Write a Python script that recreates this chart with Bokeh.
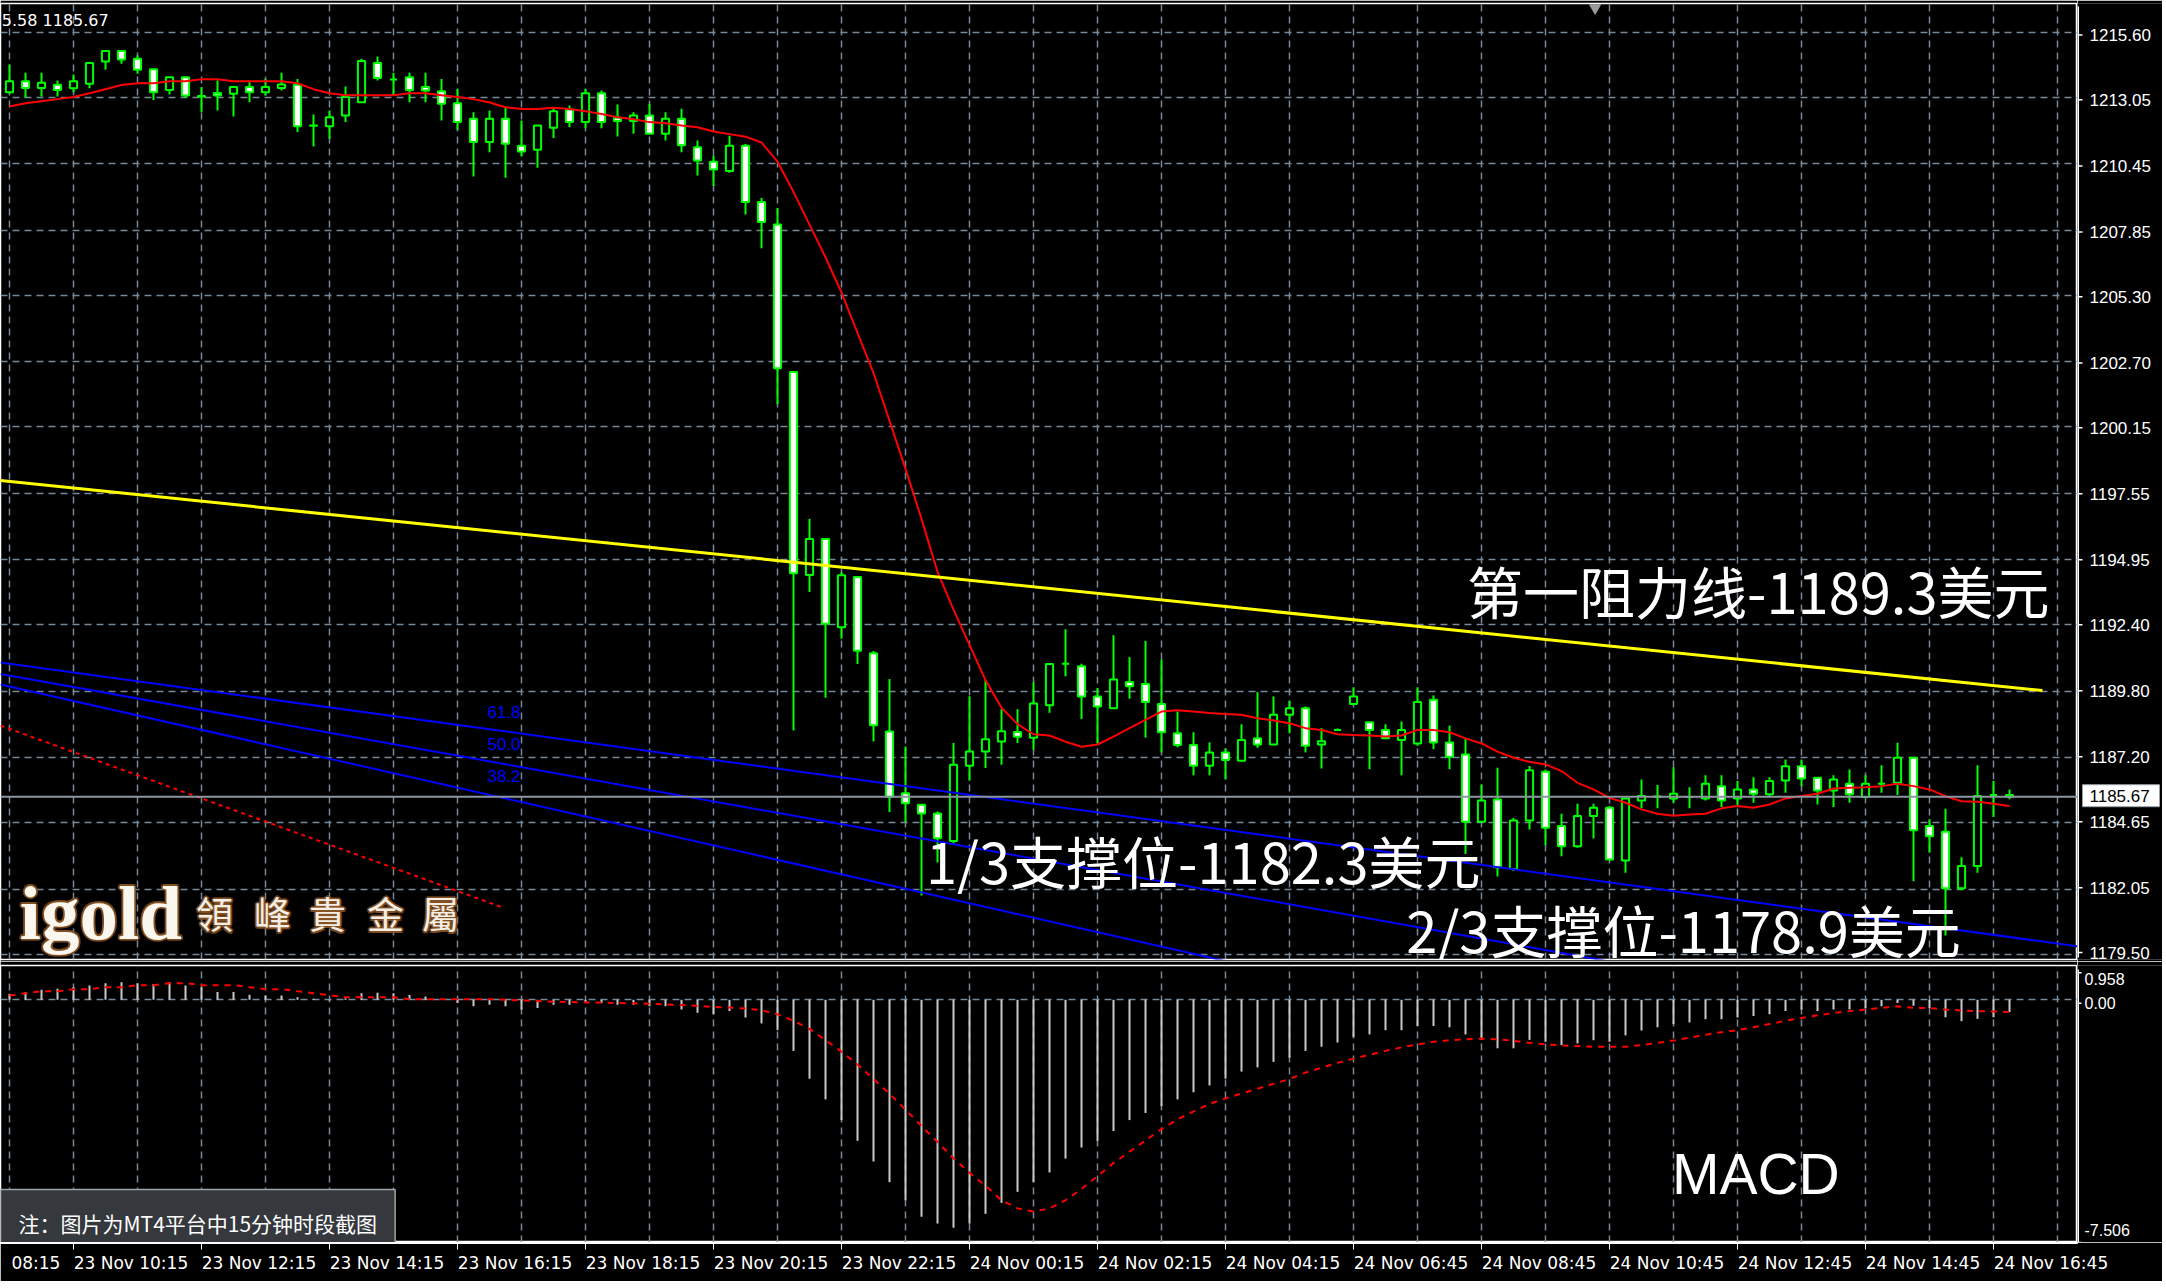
from bokeh.plotting import figure
from bokeh.layouts import column, row
from bokeh.models import (Range1d, FixedTicker, Grid, Span, Label, LinearAxis, ColumnDataSource)
from bokeh.embed import file_html
from bokeh.resources import INLINE
from bokeh.core.properties import value

# ---- GOLD M15 candles (bar index 0 .. 125) ----
opens = [1213.25, 1213.68, 1213.42, 1213.54, 1213.41, 1213.58, 1214.45, 1214.86, 1214.56, 1214.15,
         1213.34, 1213.84, 1213.10, 1213.22, 1213.19, 1213.45, 1213.25, 1213.42, 1213.54, 1211.95,
         1211.92, 1212.34, 1212.86, 1214.39, 1213.75, 1213.84, 1213.45, 1213.29, 1212.82, 1212.21,
         1211.30, 1212.21, 1211.16, 1211.00, 1211.86, 1212.57, 1212.08, 1213.21, 1212.25, 1212.12,
         1212.34, 1211.62, 1212.21, 1211.10, 1210.53, 1210.17, 1211.16, 1208.95, 1208.07, 1202.30,
         1194.35, 1195.76, 1192.31, 1194.28, 1191.29, 1188.23, 1185.81, 1185.36, 1185.02, 1183.94,
         1186.89, 1187.45, 1187.84, 1188.21, 1187.98, 1189.26, 1190.88, 1190.78, 1189.60, 1189.14,
         1190.17, 1190.09, 1189.30, 1188.16, 1187.70, 1186.89, 1187.41, 1187.08, 1187.96, 1187.72,
         1188.88, 1189.14, 1187.72, 1188.29, 1189.30, 1188.59, 1188.29, 1187.90, 1187.76, 1189.47,
         1187.80, 1187.33, 1184.70, 1185.57, 1182.85, 1184.74, 1186.65, 1184.53, 1183.74, 1184.92,
         1185.24, 1183.18, 1185.53, 1185.67, 1185.61, 1185.66, 1185.61, 1186.09, 1185.61, 1185.96,
         1185.77, 1186.31, 1186.87, 1186.42, 1185.92, 1186.18, 1185.66, 1186.18, 1186.22, 1187.20,
         1184.53, 1184.30, 1182.09, 1182.96, 1185.74, 1185.74]
highs = [1214.34, 1214.01, 1214.01, 1213.71, 1213.94, 1214.39, 1214.86, 1214.86, 1214.69, 1214.15,
         1213.84, 1213.84, 1213.45, 1213.71, 1213.45, 1213.64, 1213.77, 1214.01, 1213.77, 1212.38,
         1212.53, 1213.47, 1214.56, 1214.65, 1214.01, 1214.01, 1214.01, 1213.77, 1213.38, 1212.47,
         1212.53, 1212.66, 1212.14, 1211.95, 1212.66, 1212.73, 1213.38, 1213.32, 1212.77, 1212.47,
         1212.80, 1212.47, 1212.60, 1211.36, 1210.77, 1211.55, 1211.22, 1209.11, 1208.72, 1202.30,
         1196.55, 1195.80, 1194.48, 1194.28, 1191.38, 1190.28, 1187.64, 1185.36, 1185.10, 1187.78,
         1189.61, 1190.24, 1189.10, 1189.10, 1190.15, 1190.87, 1192.23, 1190.88, 1189.93, 1192.00,
         1191.14, 1191.77, 1191.05, 1189.01, 1188.20, 1187.80, 1187.57, 1188.51, 1189.77, 1189.60,
         1189.43, 1189.21, 1188.36, 1188.35, 1189.96, 1188.59, 1188.51, 1188.62, 1189.96, 1189.64,
         1188.46, 1187.93, 1186.15, 1186.81, 1184.84, 1186.88, 1186.74, 1185.01, 1185.40, 1185.40,
         1185.31, 1185.61, 1186.35, 1186.13, 1186.83, 1186.05, 1186.52, 1186.52, 1186.29, 1186.44,
         1186.44, 1187.13, 1187.13, 1186.44, 1186.52, 1186.74, 1186.52, 1186.91, 1187.79, 1187.20,
         1184.79, 1185.20, 1183.31, 1186.91, 1186.29, 1185.96]
lows = [1213.19, 1213.03, 1213.08, 1213.08, 1213.25, 1213.41, 1214.13, 1214.36, 1213.97, 1212.95,
        1213.16, 1213.03, 1212.47, 1212.53, 1212.30, 1212.86, 1213.12, 1213.32, 1211.69, 1211.13,
        1211.43, 1212.08, 1212.86, 1213.71, 1213.12, 1212.86, 1212.86, 1212.14, 1211.78, 1209.95,
        1210.90, 1209.90, 1210.73, 1210.29, 1211.46, 1211.88, 1211.84, 1211.84, 1211.52, 1211.62,
        1211.62, 1211.36, 1210.90, 1209.99, 1209.58, 1210.10, 1208.46, 1207.14, 1201.04, 1188.27,
        1193.69, 1189.55, 1191.86, 1190.87, 1187.84, 1185.08, 1184.69, 1181.81, 1183.10, 1183.84,
        1186.30, 1186.80, 1186.93, 1187.78, 1187.52, 1188.96, 1190.39, 1188.72, 1187.76, 1189.12,
        1189.51, 1187.99, 1187.41, 1187.61, 1186.52, 1186.52, 1186.36, 1187.07, 1187.59, 1187.70,
        1188.16, 1187.41, 1186.78, 1188.25, 1189.30, 1186.75, 1187.93, 1186.52, 1187.67, 1187.54,
        1186.75, 1183.43, 1184.70, 1182.55, 1182.78, 1184.39, 1183.78, 1183.35, 1183.68, 1184.04,
        1183.18, 1182.70, 1185.22, 1185.22, 1185.44, 1185.22, 1185.53, 1185.27, 1185.35, 1185.44,
        1185.66, 1185.83, 1186.09, 1185.37, 1185.27, 1185.44, 1185.66, 1185.83, 1185.74, 1182.37,
        1183.48, 1180.24, 1182.01, 1182.70, 1184.88, 1185.58]
closes = [1213.68, 1213.42, 1213.62, 1213.34, 1213.68, 1214.39, 1214.86, 1214.53, 1214.13, 1213.25,
          1213.84, 1213.12, 1213.08, 1213.12, 1213.45, 1213.25, 1213.45, 1213.55, 1211.92, 1211.94,
          1212.27, 1213.06, 1214.47, 1213.81, 1213.75, 1213.34, 1213.32, 1212.80, 1212.08, 1211.30,
          1212.21, 1211.23, 1210.93, 1211.95, 1212.51, 1212.08, 1213.21, 1212.08, 1212.12, 1212.34,
          1211.62, 1212.21, 1211.17, 1210.58, 1210.23, 1211.16, 1208.95, 1208.17, 1202.45, 1194.42,
          1195.76, 1192.45, 1194.34, 1191.39, 1188.47, 1185.67, 1185.42, 1185.02, 1184.05, 1186.93,
          1187.45, 1187.92, 1188.24, 1188.02, 1189.32, 1190.87, 1190.88, 1189.60, 1189.21, 1190.26,
          1190.00, 1189.38, 1188.20, 1187.70, 1186.89, 1187.41, 1187.11, 1187.90, 1187.72, 1188.88,
          1189.14, 1187.67, 1187.85, 1188.29, 1189.60, 1188.29, 1187.96, 1188.29, 1189.38, 1187.80,
          1187.24, 1184.70, 1185.53, 1182.91, 1184.74, 1186.71, 1184.46, 1183.74, 1184.92, 1185.24,
          1183.22, 1185.61, 1185.70, 1185.68, 1185.79, 1185.66, 1186.18, 1185.53, 1185.96, 1185.79,
          1186.29, 1186.87, 1186.39, 1185.92, 1186.35, 1185.77, 1186.18, 1186.18, 1187.20, 1184.36,
          1184.13, 1182.09, 1182.96, 1185.70, 1185.74, 1185.67]

# moving average drawn over the candles
ma_line = [1212.69, 1212.82, 1212.90, 1212.98, 1213.06, 1213.21, 1213.37, 1213.53, 1213.60, 1213.60,
           1213.68, 1213.68, 1213.76, 1213.76, 1213.68, 1213.68, 1213.68, 1213.68, 1213.60, 1213.37,
           1213.21, 1213.13, 1213.13, 1213.13, 1213.13, 1213.21, 1213.21, 1213.13, 1213.06, 1212.98,
           1212.85, 1212.66, 1212.59, 1212.59, 1212.64, 1212.59, 1212.51, 1212.40, 1212.27, 1212.19,
           1212.08, 1212.04, 1211.95, 1211.88, 1211.71, 1211.61, 1211.51, 1211.28, 1210.53, 1209.35,
           1208.07, 1206.79, 1205.41, 1203.83, 1202.26, 1200.39, 1198.51, 1196.55, 1194.48, 1193.00,
           1191.62, 1190.24, 1189.16, 1188.52, 1188.12, 1188.07, 1187.83, 1187.63, 1187.72, 1188.03,
           1188.36, 1188.68, 1189.01, 1189.06, 1189.01, 1188.95, 1188.91, 1188.88, 1188.75, 1188.66,
           1188.55, 1188.36, 1188.29, 1188.12, 1188.09, 1188.07, 1188.03, 1188.07, 1188.29, 1188.29,
           1188.20, 1187.96, 1187.76, 1187.44, 1187.20, 1187.04, 1186.94, 1186.68, 1186.22, 1185.96,
           1185.63, 1185.44, 1185.18, 1185.01, 1184.93, 1184.98, 1185.01, 1185.22, 1185.31, 1185.24,
           1185.37, 1185.61, 1185.70, 1185.79, 1186.00, 1186.03, 1186.05, 1186.09, 1186.18, 1186.09,
           1185.96, 1185.70, 1185.50, 1185.48, 1185.40, 1185.31]

# MACD sub-window: main histogram and signal line
macd_main = [0.19, 0.24, 0.31, 0.34, 0.39, 0.44, 0.51, 0.54, 0.51, 0.49,
             0.54, 0.44, 0.39, 0.24, 0.24, 0.16, 0.13, 0.13, 0.08, 0.03,
             -0.02, 0.05, 0.20, 0.22, 0.20, 0.15, 0.10, 0.00, -0.10, -0.20,
             -0.15, -0.20, -0.30, -0.25, -0.15, -0.15, -0.05, -0.10, -0.15, -0.15,
             -0.20, -0.20, -0.30, -0.40, -0.45, -0.35, -0.55, -0.73, -0.94, -1.58,
             -2.44, -3.08, -3.72, -4.36, -5.00, -5.64, -6.20, -6.71, -6.92, -7.05,
             -6.92, -6.62, -6.28, -5.94, -5.64, -5.34, -4.91, -4.57, -4.36, -4.06,
             -3.72, -3.50, -3.29, -3.08, -2.86, -2.65, -2.44, -2.22, -2.09, -1.92,
             -1.79, -1.58, -1.45, -1.32, -1.15, -1.07, -0.94, -0.94, -0.81, -0.81,
             -0.85, -1.07, -1.24, -1.50, -1.50, -1.24, -1.30, -1.40, -1.35, -1.25,
             -1.30, -1.10, -0.95, -0.85, -0.75, -0.70, -0.60, -0.60, -0.55, -0.50,
             -0.45, -0.35, -0.30, -0.35, -0.30, -0.30, -0.25, -0.20, -0.10, -0.18,
             -0.25, -0.54, -0.66, -0.59, -0.54, -0.38]
macd_signal = [0.133, 0.204, 0.266, 0.266, 0.328, 0.328, 0.390, 0.390, 0.452, 0.452,
               0.513, 0.513, 0.452, 0.452, 0.452, 0.390, 0.328, 0.328, 0.266, 0.204,
               0.142, 0.080, 0.080, 0.080, 0.080, 0.019, 0.019, 0.019, 0.019, 0.019,
               0.019, 0.00, -0.02, -0.04, -0.06, -0.07, -0.08, -0.09, -0.10, -0.11,
               -0.12, -0.14, -0.16, -0.19, -0.22, -0.24, -0.27, -0.32, -0.45, -0.65,
               -0.90, -1.25, -1.60, -2.00, -2.45, -2.90, -3.40, -3.90, -4.40, -4.90,
               -5.35, -5.75, -6.20, -6.45, -6.55, -6.45, -6.20, -5.85, -5.45, -5.05,
               -4.70, -4.35, -4.00, -3.70, -3.45, -3.22, -3.05, -2.90, -2.75, -2.60,
               -2.45, -2.25, -2.10, -1.95, -1.82, -1.70, -1.58, -1.47, -1.38, -1.30,
               -1.25, -1.22, -1.20, -1.22, -1.27, -1.33, -1.38, -1.41, -1.43, -1.45,
               -1.45, -1.45, -1.40, -1.33, -1.26, -1.17, -1.08, -1.00, -0.94, -0.85,
               -0.75, -0.65, -0.56, -0.48, -0.41, -0.35, -0.30, -0.25, -0.20, -0.25,
               -0.26, -0.30, -0.33, -0.35, -0.36, -0.38]

# scale ticks
price_ticks = [1215.60, 1213.05, 1210.45, 1207.85, 1205.30, 1202.70, 1200.15, 1197.55,
               1194.95, 1192.40, 1189.80, 1187.20, 1184.65, 1182.05, 1179.50]
time_tick_bars = [-4, 4, 12, 20, 28, 36, 44, 52, 60, 68, 76, 84, 92, 100, 108, 116, 124]
time_tick_labels = ["23 Nov 08:15", "23 Nov 10:15", "23 Nov 12:15", "23 Nov 14:15", "23 Nov 16:15",
                    "23 Nov 18:15", "23 Nov 20:15", "23 Nov 22:15", "24 Nov 00:15", "24 Nov 02:15",
                    "24 Nov 04:15", "24 Nov 06:45", "24 Nov 08:45", "24 Nov 10:45", "24 Nov 12:45",
                    "24 Nov 14:45", "24 Nov 16:45"]
macd_scale_ticks = [0.958, 0.0, -7.506]
last_price = 1185.67

# drawn objects (bar index, price)
resistance_bars = [-0.5625, 127.06]
resistance_prices = [1198.05, 1189.83]
fan_levels = ["61.8", "50.0", "38.2"]
fan_bars = [[-0.5625, 129.25], [-0.5625, 105.69], [-0.5625, 80.69]]
fan_prices = [[1190.93, 1179.82], [1190.48, 1178.59], [1190.07, 1178.58]]
fan_label_prices = [1188.99, 1187.74, 1186.47]
dotted_bars = [-0.5625, 30.875]
dotted_prices = [1188.46, 1181.33]

GREEN = "#00ff00"
GRID = "#778899"
SCALE_FONT = "Liberation Sans"
TIME_FONT = "DejaVu Sans"
CJK_FONT = "Noto Sans CJK SC"

n_bars = len(opens)
bars = list(range(n_bars))
x_range = Range1d(-0.5625, 129.25)
grid_bars = list(range(0, 132, 4))

# window geometry (pixels)
CHART_W, SCALE_W = 2077, 85
P_TOP, P_BOTTOM, P_FRAME_H = 3, 2, 956
P_LOW, P_HIGH = 1179.304, 1216.723
px_per_usd = P_FRAME_H / (P_HIGH - P_LOW)
M_TOP, M_FRAME_H = 4, 277
M_LOW, M_HIGH = -7.506, 1.061
macd_per_px = (M_HIGH - M_LOW) / M_FRAME_H
TIME_H = 39

# a time label starts at its tick and is about 7.2 bars wide
LABEL_BARS = 7.18


def dashed_grid(fig, dim, ticks):
    fig.add_layout(Grid(dimension=dim, ticker=FixedTicker(ticks=ticks), grid_line_color=GRID,
                        grid_line_dash="7 5", grid_line_width=1.5))


def bare_figure(**kw):
    fig = figure(output_backend="svg", toolbar_location=None,
                 x_axis_location=None, y_axis_location=None,
                 background_fill_color="black", border_fill_color="black",
                 min_border_left=0, min_border_right=0, **kw)
    fig.xgrid.visible = False
    fig.ygrid.visible = False
    return fig


# ---------------- price window ----------------
p = bare_figure(width=CHART_W, height=P_TOP + P_FRAME_H + P_BOTTOM, x_range=x_range,
                y_range=Range1d(P_LOW, P_HIGH), min_border_top=P_TOP, min_border_bottom=P_BOTTOM,
                outline_line_color="white", outline_line_width=1.5)
dashed_grid(p, 0, grid_bars)
dashed_grid(p, 1, price_ticks)

candles = ColumnDataSource(dict(
    x=bars, high=highs, low=lows,
    top=[max(o, c) for o, c in zip(opens, closes)],
    bottom=[min(o, c) for o, c in zip(opens, closes)],
    fill=["black" if c >= o else "white" for o, c in zip(opens, closes)],
))
p.segment(x0="x", y0="low", x1="x", y1="high", source=candles, line_color=GREEN, line_width=2)
p.vbar(x="x", top="top", bottom="bottom", width=0.45, source=candles,
       fill_color="fill", line_color=GREEN, line_width=2)

p.line(bars, ma_line, line_color="red", line_width=2)
p.add_layout(Span(location=last_price, dimension="width", line_color="#8c96a0", line_width=2))

for fb, fp in zip(fan_bars, fan_prices):
    p.line(fb, fp, line_color="blue", line_width=2)
p.line(resistance_bars, resistance_prices, line_color="yellow", line_width=3)
p.line(dotted_bars, dotted_prices, line_color="red", line_width=2, line_dash="4 4")

p.scatter([99.1], [1216.55], marker="inverted_triangle", size=11, color="#9a9a9a")

for lvl, lp in zip(fan_levels, fan_label_prices):
    p.add_layout(Label(x=31.94, y=lp, text=lvl, text_align="right", text_baseline="middle",
                       text_color="blue", text_font=SCALE_FONT, text_font_size="17px"))

p.add_layout(Label(x=6.2, y=1216.06, text="5.58 1185.67", text_align="right",
                   text_baseline="middle", text_color="white", text_font=TIME_FONT,
                   text_font_size="16px"))

for txt, bx, by in [("第一阻力线-1189.3美元", 91.1, 1193.79),
                    ("1/3支撑位-1182.3美元", 57.28, 1183.22),
                    ("2/3支撑位-1178.9美元", 87.3, 1180.52)]:
    p.add_layout(Label(x=bx, y=by, text=txt, text_align="left", text_baseline="middle",
                       text_color="white", text_font=CJK_FONT, text_font_size="56px"))

# igold logo with a warm glow
LOGO_WORD_Y, LOGO_CHAR_Y = 1181.14, 1181.12
glow = [(-2, 0), (2, 0), (0, -2), (0, 2), (-1.5, -1.5), (1.5, 1.5), (-1.5, 1.5), (1.5, -1.5)]
logo_chars = ["領", "峰", "貴", "金", "屬"]
logo_bars = [12.81, 16.44, 19.88, 23.5, 26.94]
for dx, dy in glow:
    p.add_layout(Label(x=0.625, y=LOGO_WORD_Y, text="igold", x_offset=dx, y_offset=dy,
                       text_align="left", text_baseline="alphabetic", text_color="#8a5525",
                       text_alpha=0.6, text_font="Liberation Serif", text_font_style="bold",
                       text_font_size="77px"))
    for ch, bx in zip(logo_chars, logo_bars):
        p.add_layout(Label(x=bx, y=LOGO_CHAR_Y, text=ch, x_offset=dx, y_offset=dy,
                           text_align="center", text_baseline="middle", text_color="#8a5525",
                           text_alpha=0.6, text_font="Noto Sans CJK TC", text_font_size="37px"))
p.add_layout(Label(x=0.625, y=LOGO_WORD_Y, text="igold", text_align="left",
                   text_baseline="alphabetic", text_color="#fbf6ee", text_font="Liberation Serif",
                   text_font_style="bold", text_font_size="77px"))
for ch, bx in zip(logo_chars, logo_bars):
    p.add_layout(Label(x=bx, y=LOGO_CHAR_Y, text=ch, text_align="center", text_baseline="middle",
                       text_color="#f4efe6", text_font="Noto Sans CJK TC", text_font_size="37px"))

# ---------------- price scale ----------------
ps = bare_figure(width=SCALE_W, height=P_TOP + P_FRAME_H + P_BOTTOM, x_range=Range1d(0, SCALE_W),
                 y_range=Range1d(P_LOW - P_BOTTOM / px_per_usd, P_HIGH + P_TOP / px_per_usd),
                 min_border_top=0, min_border_bottom=0, outline_line_color=None)
ps.segment(x0=[0.75], y0=[P_LOW], x1=[0.75], y1=[P_HIGH], line_color="white", line_width=1.5)
ps.segment(x0=[0] * len(price_ticks), y0=price_ticks, x1=[5] * len(price_ticks), y1=price_ticks,
           line_color="white", line_width=1.5)
ps.text(x=[12] * len(price_ticks), y=price_ticks, text=[f"{t:.2f}" for t in price_ticks],
        text_align="left", text_baseline="middle", text_color="white",
        text_font=value(SCALE_FONT), text_font_size="17px")
ps.rect(x=[43.5], y=[last_price], width=77, height=22, height_units="screen",
        fill_color="white", line_color="#9aa0a6", line_width=1)
ps.text(x=[12], y=[last_price], text=[f"{last_price:.2f}"], text_align="left",
        text_baseline="middle", text_color="black", text_font=value(SCALE_FONT),
        text_font_size="17px")

# ---------------- MACD window ----------------
m = bare_figure(width=CHART_W, height=M_TOP + M_FRAME_H, x_range=x_range,
                y_range=Range1d(M_LOW, M_HIGH), min_border_top=M_TOP, min_border_bottom=0,
                outline_line_color="white", outline_line_width=1.5)
dashed_grid(m, 0, grid_bars)
dashed_grid(m, 1, [0.0])

m.vbar(x=bars, top=macd_main, bottom=0, width=0.125, fill_color="#c8c8c8", line_color=None)
m.line(bars, macd_signal, line_color="red", line_width=2, line_dash="6 6")

m.add_layout(Label(x=103.9, y=-5.373, text="MACD", text_align="left", text_baseline="middle",
                   text_color="white", text_font="Liberation Sans", text_font_size="57px"))

m.add_layout(Label(x=-0.5625, y=-6.888, text="注：图片为MT4平台中15分钟时段截图", text_align="left",
                   text_baseline="middle", text_color="white", text_font=CJK_FONT,
                   text_font_size="21px", background_fill_color="#35383d",
                   border_line_color="#a0a4a8", border_line_width=1.5, padding=18))

# ---------------- MACD scale ----------------
ms = bare_figure(width=SCALE_W, height=M_TOP + M_FRAME_H, x_range=Range1d(0, SCALE_W),
                 y_range=Range1d(M_LOW, M_HIGH + M_TOP * macd_per_px),
                 min_border_top=0, min_border_bottom=0, outline_line_color=None)
ms.segment(x0=[0.75], y0=[M_LOW], x1=[0.75], y1=[M_HIGH], line_color="white", line_width=1.5)
ms.segment(x0=[0] * 3, y0=macd_scale_ticks, x1=[4] * 3, y1=macd_scale_ticks,
           line_color="white", line_width=1.5)
macd_scale_text = [f"{t:.2f}" if t == 0 else f"{t:.3f}" for t in macd_scale_ticks]
for t, txt, base, off in zip(macd_scale_ticks, macd_scale_text,
                             ["top", "middle", "bottom"], [0, 0, -7]):
    ms.text(x=[7], y=[t], text=[txt], text_align="left", text_baseline=base, y_offset=off,
            text_color="white", text_font=value(SCALE_FONT), text_font_size="16px")

# ---------------- time scale ----------------
ts = figure(width=CHART_W + SCALE_W, height=TIME_H, x_range=x_range, y_range=Range1d(0, 1),
            output_backend="svg", toolbar_location=None,
            x_axis_location="below", y_axis_location=None,
            background_fill_color="white", border_fill_color="black", outline_line_color=None,
            min_border_left=0, min_border_right=SCALE_W, min_border_top=0,
            min_border_bottom=TIME_H - 1)
ts.xgrid.visible = False
ts.ygrid.visible = False


def style_scale_axis(axis, size):
    axis.major_label_text_color = "white"
    axis.major_label_text_font = TIME_FONT
    axis.major_label_text_font_size = size
    axis.major_tick_in = 0
    axis.major_tick_line_color = "white"
    axis.minor_tick_line_color = None
    axis.axis_line_color = "white"


# tick marks
tx = ts.xaxis[0]
tx.ticker = FixedTicker(ticks=time_tick_bars)
tx.major_label_overrides = {t: "" for t in time_tick_bars}
style_scale_axis(tx, "1px")
tx.major_label_standoff = 0
tx.major_tick_out = 6

# labels, each starting at its tick; the first one is cut by the window edge,
# so only its clock part is shown, ending where the full label would end
label_pos, label_txt = [], []
for t, lab in zip(time_tick_bars, time_tick_labels):
    if t < 0:
        label_pos.append(t + LABEL_BARS - 1.53)
        label_txt.append(lab.split()[-1])
    else:
        label_pos.append(t + LABEL_BARS / 2)
        label_txt.append(lab)
time_axis = LinearAxis(ticker=FixedTicker(ticks=label_pos),
                       major_label_overrides=dict(zip(label_pos, label_txt)))
style_scale_axis(time_axis, "17px")
time_axis.major_tick_out = 0
time_axis.major_tick_line_color = None
time_axis.axis_line_color = None
time_axis.major_label_standoff = 3
ts.add_layout(time_axis, "below")

layout = column(row(p, ps, spacing=0), row(m, ms, spacing=0), ts, spacing=0)
open("out.html", "w").write(file_html(layout, INLINE, title="GOLD M15"))
